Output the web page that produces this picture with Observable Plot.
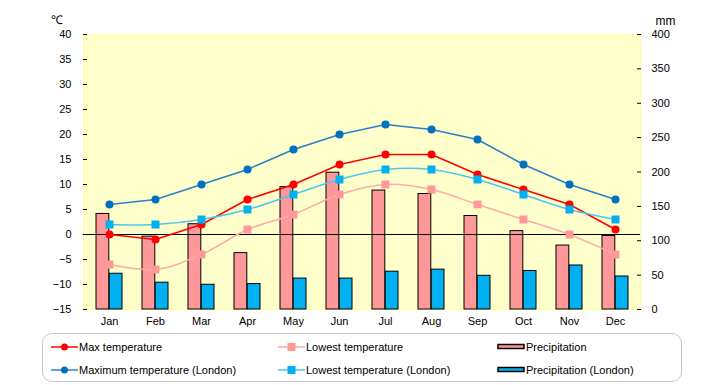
<!DOCTYPE html>
<html>
<head>
<meta charset="utf-8">
<script src="https://cdn.jsdelivr.net/npm/d3@7"></script>
<script src="https://cdn.jsdelivr.net/npm/@observablehq/plot@0.6"></script>
<style>
  body { margin: 0; background: #fff; }
  #wrap { position: relative; width: 720px; height: 385px; font-family: "Liberation Sans", Arial, sans-serif; }
  #legend { position: absolute; left: 42px; top: 333px; width: 638px; height: 47px; border: 1.5px solid #c8c8c8; border-radius: 10px; font-size: 11px; }
  .item { position: absolute; display: flex; align-items: center; white-space: nowrap; }
  .item svg { margin-right: 1px; flex: none; }
</style>
</head>
<body>
<div id="wrap">
  <div id="chart"></div>
  <div id="legend"></div>
</div>
<script>
const months = ["Jan","Feb","Mar","Apr","May","Jun","Jul","Aug","Sep","Oct","Nov","Dec"];
const maxTemp = [0, -1, 2, 7, 10, 14, 16, 16, 12, 9, 6, 1];
const lowTemp = [-6, -7, -4, 1, 4, 8, 10, 9, 6, 3, 0, -4];
const precip = [139, 106, 124, 82, 178, 199, 173, 168, 136, 114, 93, 107];
const maxTempLondon = [6, 7, 10, 13, 17, 20, 22, 21, 19, 14, 10, 7];
const lowTempLondon = [2, 2, 3, 5, 8, 11, 13, 13, 11, 8, 5, 3];
const precipLondon = [52, 39, 36, 37, 45, 45, 55, 58, 49, 56, 64, 48];
const tempTicks = [-15, -10, -5, 0, 5, 10, 15, 20, 25, 30, 35, 40];
const mmTicks = [0, 50, 100, 150, 200, 250, 300, 350, 400];

const tempDomain = [-15, 40];
const mmDomain = [0, 400];
// map precipitation (mm) onto the temperature axis range
const toT = mm => tempDomain[0] + (mm - mmDomain[0]) * (tempDomain[1] - tempDomain[0]) / (mmDomain[1] - mmDomain[0]);
const fromT = t => Math.round(mmDomain[0] + (t - tempDomain[0]) * (mmDomain[1] - mmDomain[0]) / (tempDomain[1] - tempDomain[0]));

const rows = months.map((m, i) => ({
  month: m, maxTemp: maxTemp[i], lowTemp: lowTemp[i],
  precip: toT(precip[i]), maxL: maxTempLondon[i], lowL: lowTempLondon[i], precipL: toT(precipLondon[i])
}));

const chart = Plot.plot({
  width: 720,
  height: 330,
  marginTop: 34,
  marginBottom: 21,
  marginLeft: 83,
  marginRight: 80,
  style: { fontFamily: '"Liberation Sans", Arial, sans-serif', fontSize: "11px", color: "#000", background: "transparent" },
  x: { type: "band", domain: months, padding: 0, axis: null },
  y: { domain: tempDomain, axis: null },
  marks: [
    Plot.frame({ fill: "#ffffcc", stroke: "#ffff99" }),
    Plot.barY(rows, { x: "month", y1: tempDomain[0], y2: "precip", fill: "#ff9999", stroke: "#000", strokeWidth: 1, insetLeft: 10, insetRight: 23.2 }),
    Plot.barY(rows, { x: "month", y1: tempDomain[0], y2: "precipL", fill: "#00b0f0", stroke: "#000", strokeWidth: 1, insetLeft: 23.2, insetRight: 10 }),
    Plot.ruleY([0], { stroke: "#000", strokeWidth: 1 }),
    Plot.line(rows, { x: "month", y: "lowTemp", stroke: "#ffaaaa", strokeWidth: 1.5, curve: "catmull-rom" }),
    Plot.dot(rows, { x: "month", y: "lowTemp", symbol: "square", r: 4.5, fill: "#ff9999" }),
    Plot.line(rows, { x: "month", y: "maxTemp", stroke: "#ff0000", strokeWidth: 1.5 }),
    Plot.dot(rows, { x: "month", y: "maxTemp", r: 4, fill: "#ff0000" }),
    Plot.line(rows, { x: "month", y: "lowL", stroke: "#4cc6f0", strokeWidth: 1.5, curve: "catmull-rom" }),
    Plot.dot(rows, { x: "month", y: "lowL", symbol: "square", r: 4.5, fill: "#00b0f0" }),
    Plot.line(rows, { x: "month", y: "maxL", stroke: "#2a80c8", strokeWidth: 1.5 }),
    Plot.dot(rows, { x: "month", y: "maxL", r: 4, fill: "#0070c0" }),
    Plot.axisY(tempTicks, { anchor: "left", tickSize: -4, tickPadding: 16, line: true, label: null }),
    Plot.axisY(mmTicks.map(toT), { anchor: "right", tickSize: -4, tickPadding: 15, line: true, label: null, tickFormat: fromT }),
    Plot.axisX({ tickSize: 0, tickPadding: 8, label: null }),
    Plot.text(["℃"], { frameAnchor: "top-left", textAnchor: "start", dx: -33, dy: -19, fontSize: 12 }),
    Plot.text(["mm"], { frameAnchor: "top-right", textAnchor: "start", dx: 15, dy: -18, fontSize: 12 })
  ]
});
document.getElementById("chart").appendChild(chart);

// legend
const legendItems = [
  { label: "Max temperature", kind: "line", color: "#ff0000", marker: "circle", mcolor: "#ff0000", x: 8, y: 13 },
  { label: "Lowest temperature", kind: "line", color: "#ffaaaa", marker: "square", mcolor: "#ff9999", x: 235, y: 13 },
  { label: "Precipitation", kind: "bar", color: "#ff9999", x: 454, y: 13 },
  { label: "Maximum temperature (London)", kind: "line", color: "#2a80c8", marker: "circle", mcolor: "#0070c0", x: 8, y: 36 },
  { label: "Lowest temperature (London)", kind: "line", color: "#4cc6f0", marker: "square", mcolor: "#00b0f0", x: 235, y: 36 },
  { label: "Precipitation (London)", kind: "bar", color: "#00b0f0", x: 454, y: 36 }
];
const legend = document.getElementById("legend");
for (const it of legendItems) {
  const div = document.createElement("div");
  div.className = "item";
  div.style.left = it.x + "px";
  div.style.top = (it.y - 8) + "px";
  div.style.height = "16px";
  let sw;
  if (it.kind === "line") {
    const mk = it.marker === "circle"
      ? `<circle cx="13.5" cy="8" r="3.5" fill="${it.mcolor}"/>`
      : `<rect x="9.5" y="4" width="8" height="8" fill="${it.mcolor}"/>`;
    sw = `<svg width="27" height="16"><line x1="0" y1="8" x2="27" y2="8" stroke="${it.color}" stroke-width="1.5"/>${mk}</svg>`;
  } else {
    sw = `<svg width="28" height="16"><rect x="1" y="5.5" width="26" height="4" fill="${it.color}" stroke="#000" stroke-width="1.5"/></svg>`;
  }
  div.innerHTML = sw + `<span>${it.label}</span>`;
  legend.appendChild(div);
}
</script>
</body>
</html>
